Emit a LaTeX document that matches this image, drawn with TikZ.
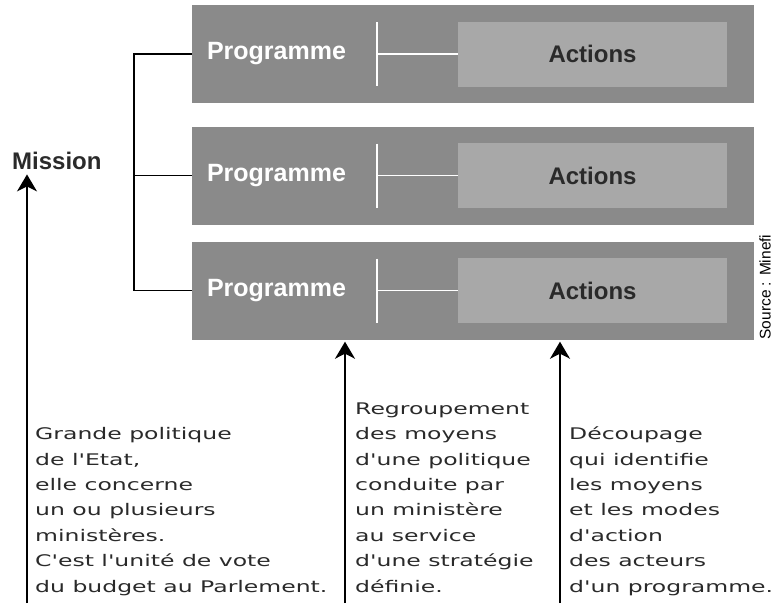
\documentclass[tikz,border=0pt]{standalone}
\usepackage{fontspec}
\setmainfont{Liberation Sans}
\newfontfamily\bodyfont[FakeStretch=1.47]{DejaVu Sans}
\usetikzlibrary{arrows.meta,positioning}
\definecolor{progGray}{HTML}{8A8A8A}
\definecolor{actGray}{HTML}{A8A8A8}
\definecolor{inkGray}{HTML}{2A2A2A}

\begin{document}
\begin{tikzpicture}[x=1pt,y=-1pt,
    progbox/.style={fill=progGray,minimum width=562pt,minimum height=98pt,inner sep=0pt},
    actbox/.style={fill=actGray,minimum width=269pt,minimum height=65pt,inner sep=0pt,
      font=\fontsize{24}{28}\selectfont\bfseries,text=inkGray},
    proglabel/.style={anchor=west,inner sep=0pt,text=white,font=\fontsize{25}{28}\selectfont\bfseries},
    tick/.style={draw=white,line width=1.5pt},
    bodytext/.style={anchor=base west,inner sep=0pt,align=left,text=inkGray,
      font=\bodyfont\fontsize{16}{25.4}\selectfont},
    uparrow/.style={line width=1.8pt,-{Stealth[length=17pt,width=20pt,inset=5pt]}}]
  \useasboundingbox (0,0) rectangle (774,606);

  % the three programmes
  \node[progbox] (p1) at (473,54) {};
  \node[progbox] (p2) at (473,175.5) {};
  \node[progbox] (p3) at (473,290.5) {};
  \node[actbox,anchor=east] (a1) at ([xshift=-27pt]p1.east) {Actions};
  \node[actbox,anchor=east] (a2) at ([xshift=-27pt]p2.east) {Actions};
  \node[actbox,anchor=east] (a3) at ([xshift=-27pt]p3.east) {Actions};
  \node[proglabel] (l1) at ([xshift=15pt]p1.west) {Programme};
  \node[proglabel] (l2) at ([xshift=15pt]p2.west) {Programme};
  \node[proglabel] (l3) at ([xshift=15pt]p3.west) {Programme};
  \draw[tick] (377,22) -- (377,86) (377,54) -- (a1.west);
  \draw[tick] (377,143.5) -- (377,207.5) (377,175.5) -- (a2.west);
  \draw[tick] (377,258.5) -- (377,322.5) (377,290.5) -- (a3.west);

  % mission and its link to the programmes
  \node[anchor=base west,inner sep=0pt,text=inkGray,font=\fontsize{24}{28}\selectfont\bfseries]
    (mission) at (12,169) {Mission};
  \coordinate (bus) at (134,0);
  \draw[line width=1.5pt] (p1.west) -| (bus |- p3.west) -- (p3.west);
  \draw[line width=1.5pt] (p2.west) -- (bus |- p2.west);

  % explanations (base = last line)
  \coordinate (t1) at (27,603);
  \coordinate (t2) at (345,603);
  \coordinate (t3) at (560,603);
  \draw[uparrow,shorten >=5pt] (t1) -- (t1 |- mission.south);
  \draw[uparrow,shorten >=2pt] (t2) -- (t2 |- p3.south);
  \draw[uparrow,shorten >=2pt] (t3) -- (t3 |- p3.south);
  \node[bodytext] (txt1) at (35,592) {Grande politique\\de l'Etat,\\elle concerne\\un ou plusieurs\\minist\`eres.\\C'est l'unit\'e de vote\\du budget au Parlement.};
  \node[bodytext] (txt2) at (355,592) {Regroupement\\des moyens\\d'une politique\\conduite par\\un minist\`ere\\au service\\d'une strat\'egie\\d\'efinie.};
  \node[bodytext] (txt3) at (569,592) {D\'ecoupage\\qui identifie\\les moyens\\et les modes\\d'action\\des acteurs\\d'un programme.};

  \node[rotate=90,inner sep=0pt,font=\fontsize{15.5}{18}\selectfont] (src) at (765,287) {Source : Minefi};
\end{tikzpicture}
\end{document}
